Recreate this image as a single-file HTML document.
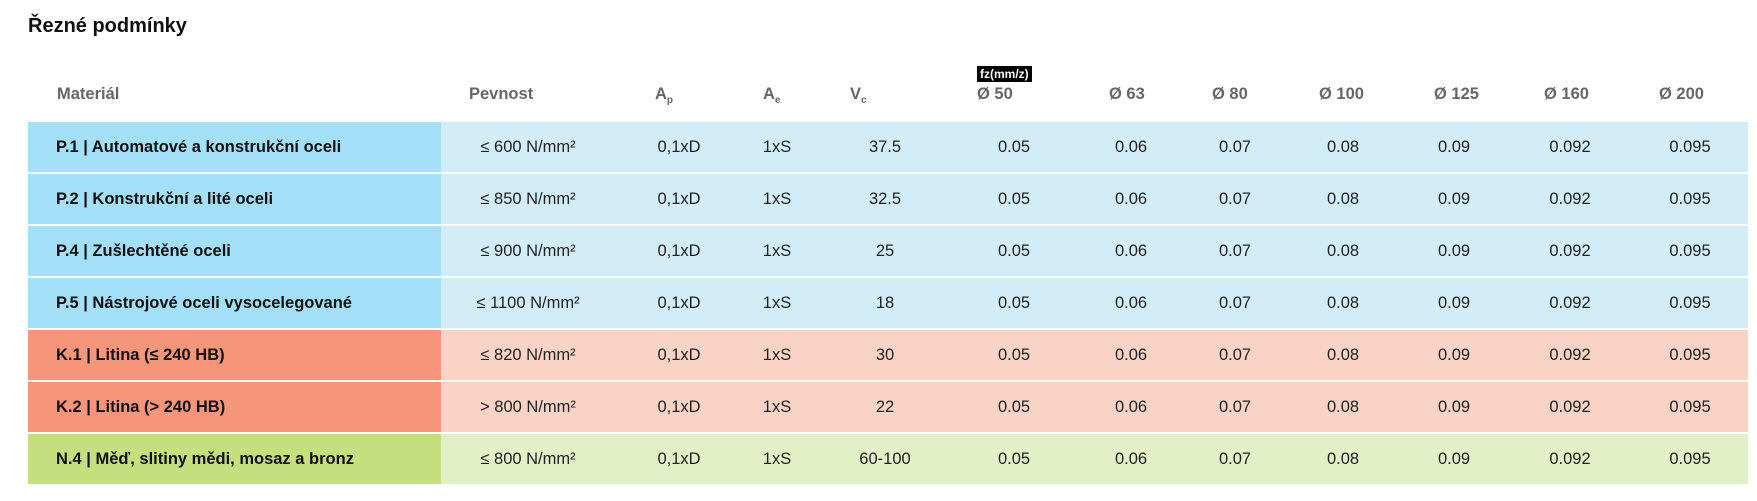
<!DOCTYPE html>
<html><head><meta charset="utf-8"><style>
body{margin:0;width:1757px;height:501px;background:#fff;font-family:"Liberation Sans",sans-serif;position:relative;overflow:hidden}
.a{position:absolute;white-space:nowrap}
.t{left:28px;top:15px;font-size:20px;font-weight:bold;color:#111}
.h{top:85px;font-size:16.5px;font-weight:bold;color:#666}
.row{position:absolute;left:28px;width:1720px;height:50px}
.m{position:absolute;left:0;top:0;width:413px;height:50px;font-weight:bold;font-size:16.5px;color:#111;line-height:50px;padding-left:28px;box-sizing:border-box}
.bg{position:absolute;left:413px;top:0;right:0;height:50px}
.c{position:absolute;top:0;line-height:50px;font-size:16.5px;color:#222;width:120px;text-align:center;margin-left:-60px}
sub{font-size:10px;vertical-align:-4px}
.fz{left:977px;top:66px;background:#000;color:#fff;font-size:12px;font-weight:bold;padding:1px 3px}
</style></head><body>
<div class="a t">Řezné podmínky</div>
<div class="a fz">fz(mm/z)</div>
<div class="a h" style="left:57px">Materiál</div>
<div class="a h" style="left:469px">Pevnost</div>
<div class="a h" style="left:655px">A<sub>p</sub></div>
<div class="a h" style="left:763px">A<sub>e</sub></div>
<div class="a h" style="left:850px">V<sub>c</sub></div>
<div class="a h" style="left:977px">Ø 50</div>
<div class="a h" style="left:1109px">Ø 63</div>
<div class="a h" style="left:1212px">Ø 80</div>
<div class="a h" style="left:1319px">Ø 100</div>
<div class="a h" style="left:1434px">Ø 125</div>
<div class="a h" style="left:1544px">Ø 160</div>
<div class="a h" style="left:1659px">Ø 200</div>
<div class="row" style="top:122px"><div class="m" style="background:#a3dff7">P.1 | Automatové a konstrukční oceli</div><div class="bg" style="background:#d3edf8"></div><div class="c" style="left:500px">≤ 600 N/mm²</div><div class="c" style="left:651px">0,1xD</div><div class="c" style="left:749px">1xS</div><div class="c" style="left:857px">37.5</div><div class="c" style="left:986px">0.05</div><div class="c" style="left:1103px">0.06</div><div class="c" style="left:1207px">0.07</div><div class="c" style="left:1315px">0.08</div><div class="c" style="left:1426px">0.09</div><div class="c" style="left:1542px">0.092</div><div class="c" style="left:1662px">0.095</div></div>
<div class="row" style="top:174px"><div class="m" style="background:#a3dff7">P.2 | Konstrukční a lité oceli</div><div class="bg" style="background:#d3edf8"></div><div class="c" style="left:500px">≤ 850 N/mm²</div><div class="c" style="left:651px">0,1xD</div><div class="c" style="left:749px">1xS</div><div class="c" style="left:857px">32.5</div><div class="c" style="left:986px">0.05</div><div class="c" style="left:1103px">0.06</div><div class="c" style="left:1207px">0.07</div><div class="c" style="left:1315px">0.08</div><div class="c" style="left:1426px">0.09</div><div class="c" style="left:1542px">0.092</div><div class="c" style="left:1662px">0.095</div></div>
<div class="row" style="top:226px"><div class="m" style="background:#a3dff7">P.4 | Zušlechtěné oceli</div><div class="bg" style="background:#d3edf8"></div><div class="c" style="left:500px">≤ 900 N/mm²</div><div class="c" style="left:651px">0,1xD</div><div class="c" style="left:749px">1xS</div><div class="c" style="left:857px">25</div><div class="c" style="left:986px">0.05</div><div class="c" style="left:1103px">0.06</div><div class="c" style="left:1207px">0.07</div><div class="c" style="left:1315px">0.08</div><div class="c" style="left:1426px">0.09</div><div class="c" style="left:1542px">0.092</div><div class="c" style="left:1662px">0.095</div></div>
<div class="row" style="top:278px"><div class="m" style="background:#a3dff7">P.5 | Nástrojové oceli vysocelegované</div><div class="bg" style="background:#d3edf8"></div><div class="c" style="left:500px">≤ 1100 N/mm²</div><div class="c" style="left:651px">0,1xD</div><div class="c" style="left:749px">1xS</div><div class="c" style="left:857px">18</div><div class="c" style="left:986px">0.05</div><div class="c" style="left:1103px">0.06</div><div class="c" style="left:1207px">0.07</div><div class="c" style="left:1315px">0.08</div><div class="c" style="left:1426px">0.09</div><div class="c" style="left:1542px">0.092</div><div class="c" style="left:1662px">0.095</div></div>
<div class="row" style="top:330px"><div class="m" style="background:#f5957a">K.1 | Litina (≤ 240 HB)</div><div class="bg" style="background:#f9d3c6"></div><div class="c" style="left:500px">≤ 820 N/mm²</div><div class="c" style="left:651px">0,1xD</div><div class="c" style="left:749px">1xS</div><div class="c" style="left:857px">30</div><div class="c" style="left:986px">0.05</div><div class="c" style="left:1103px">0.06</div><div class="c" style="left:1207px">0.07</div><div class="c" style="left:1315px">0.08</div><div class="c" style="left:1426px">0.09</div><div class="c" style="left:1542px">0.092</div><div class="c" style="left:1662px">0.095</div></div>
<div class="row" style="top:382px"><div class="m" style="background:#f5957a">K.2 | Litina (&gt; 240 HB)</div><div class="bg" style="background:#f9d3c6"></div><div class="c" style="left:500px">&gt; 800 N/mm²</div><div class="c" style="left:651px">0,1xD</div><div class="c" style="left:749px">1xS</div><div class="c" style="left:857px">22</div><div class="c" style="left:986px">0.05</div><div class="c" style="left:1103px">0.06</div><div class="c" style="left:1207px">0.07</div><div class="c" style="left:1315px">0.08</div><div class="c" style="left:1426px">0.09</div><div class="c" style="left:1542px">0.092</div><div class="c" style="left:1662px">0.095</div></div>
<div class="row" style="top:434px"><div class="m" style="background:#c5de7e">N.4 | Měď, slitiny mědi, mosaz a bronz</div><div class="bg" style="background:#e3efc6"></div><div class="c" style="left:500px">≤ 800 N/mm²</div><div class="c" style="left:651px">0,1xD</div><div class="c" style="left:749px">1xS</div><div class="c" style="left:857px">60-100</div><div class="c" style="left:986px">0.05</div><div class="c" style="left:1103px">0.06</div><div class="c" style="left:1207px">0.07</div><div class="c" style="left:1315px">0.08</div><div class="c" style="left:1426px">0.09</div><div class="c" style="left:1542px">0.092</div><div class="c" style="left:1662px">0.095</div></div>
</body></html>
